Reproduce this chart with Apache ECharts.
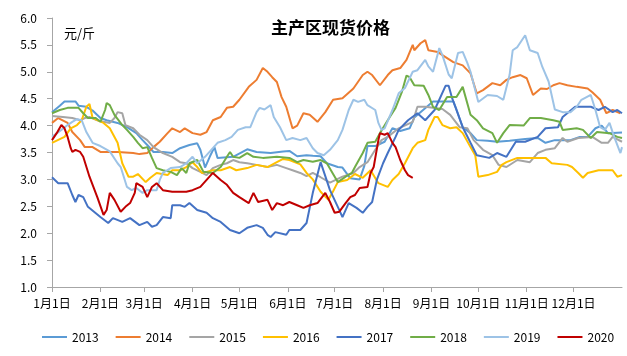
<!DOCTYPE html>
<html><head><meta charset="utf-8">
<script src="https://cdn.jsdelivr.net/npm/echarts@6/dist/echarts.min.js"></script>
<style>html,body{margin:0;padding:0;background:#fff}#c{width:627px;height:356px}</style>
</head><body><div id="c"></div>
<script>
// x = day of year (0 = 1月1日), y = price 元/斤
const monthDays = [0,31,59,90,120,151,181,212,243,273,304,334];
const monthLabels = ['1月1日','2月1日','3月1日','4月1日','5月1日','6月1日','7月1日','8月1日','9月1日','10月1日','11月1日','12月1日'];
const years = ['2013','2014','2015','2016','2017','2018','2019','2020'];
const colors = ['#5B9BD5','#ED7D31','#A5A5A5','#FFC000','#4472C4','#70AD47','#9DC3E6','#C00000'];

const s2013 = [[0,4.25],[5,4.37],[8,4.45],[15,4.45],[17,4.37],[22,4.35],[26,4.28],[31,4.14],[35,4.10],[42,4.05],[48,3.97],[54,3.86],[58,3.73],[61,3.64],[65,3.51],[71,3.51],[77,3.49],[82,3.58],[88,3.64],[93,3.67],[95,3.55],[98,3.22],[101,3.42],[104,3.60],[106,3.40],[116,3.42],[125,3.56],[131,3.51],[140,3.49],[148,3.52],[152,3.53],[157,3.43],[163,3.45],[167,3.44],[172,3.43],[176,3.30],[183,3.23],[186,3.22],[191,3.02],[197,3.00],[200,3.25],[202,3.62],[207,3.62],[213,3.70],[218,3.95],[223,3.90],[229,3.95],[232,4.15],[238,4.30],[244,4.45],[257,4.45],[259,4.30],[263,3.97],[268,3.86],[272,3.73],[279,3.72],[285,3.70],[293,3.72],[303,3.75],[311,3.77],[316,3.68],[322,3.73],[332,3.73],[338,3.79],[343,3.79],[348,3.95],[352,4.00],[356,3.86],[365,3.87]];
const s2014 = [[0,4.05],[4,4.14],[10,4.05],[13,3.88],[18,3.73],[21,3.60],[26,3.60],[31,3.51],[42,3.51],[52,3.49],[56,3.47],[61,3.49],[65,3.60],[69,3.70],[74,3.86],[77,3.95],[82,3.88],[85,3.95],[90,3.86],[95,3.83],[99,3.88],[103,4.10],[108,4.16],[112,4.33],[116,4.35],[120,4.48],[126,4.72],[131,4.85],[135,5.07],[138,5.00],[141,4.90],[144,4.81],[147,4.53],[150,4.35],[154,3.95],[157,4.00],[161,4.23],[165,4.20],[170,4.07],[175,4.25],[180,4.48],[186,4.51],[193,4.69],[199,4.94],[202,5.00],[205,4.94],[210,4.75],[215,4.94],[218,5.03],[223,5.07],[227,5.22],[231,5.50],[232,5.40],[236,5.53],[239,5.59],[241,5.40],[247,5.37],[250,5.31],[257,5.18],[263,5.12],[268,4.97],[272,4.60],[276,4.66],[282,4.79],[287,4.75],[291,4.85],[295,4.90],[300,4.94],[304,4.88],[308,4.57],[313,4.69],[317,4.68],[321,4.75],[325,4.79],[330,4.75],[336,4.72],[343,4.69],[346,4.62],[351,4.48],[355,4.23],[359,4.29],[364,4.23]];
const s2015 = [[0,4.18],[7,4.16],[13,4.14],[18,4.10],[21,4.14],[24,4.16],[29,4.10],[33,4.07],[37,4.05],[40,4.14],[42,4.25],[45,4.23],[47,4.01],[52,3.95],[56,3.83],[61,3.73],[65,3.60],[71,3.49],[77,3.42],[82,3.32],[86,3.30],[90,3.21],[95,3.14],[99,3.08],[103,3.21],[108,3.27],[112,3.30],[116,3.36],[120,3.32],[125,3.30],[131,3.27],[138,3.23],[144,3.27],[150,3.21],[154,3.17],[159,3.12],[163,3.06],[167,3.12],[172,3.04],[178,2.94],[186,3.05],[193,3.12],[197,3.23],[202,3.32],[207,3.55],[211,3.73],[215,3.79],[222,3.95],[231,4.07],[234,4.35],[239,4.35],[244,4.33],[250,4.31],[255,4.20],[261,3.97],[266,3.95],[270,3.73],[276,3.55],[282,3.45],[286,3.27],[291,3.23],[298,3.36],[306,3.32],[311,3.49],[316,3.55],[322,3.58],[327,3.77],[330,3.70],[337,3.77],[346,3.79],[352,3.68],[356,3.68],[359,3.79],[365,3.70]];
const s2016 = [[0,3.68],[8,3.79],[12,3.95],[16,4.01],[19,4.10],[22,4.35],[24,4.40],[26,4.14],[33,4.05],[37,3.95],[42,3.68],[45,3.30],[49,3.05],[52,3.05],[55,3.10],[60,2.95],[63,3.03],[67,3.12],[74,3.08],[77,3.17],[82,3.17],[86,3.23],[90,3.32],[93,3.23],[96,3.12],[99,3.14],[103,3.17],[108,3.17],[114,3.23],[118,3.17],[125,3.21],[131,3.27],[138,3.23],[144,3.32],[148,3.38],[152,3.36],[159,3.28],[163,3.12],[167,3.00],[172,2.77],[177,2.62],[180,2.78],[183,2.95],[189,2.99],[194,3.10],[199,3.03],[204,3.17],[209,2.93],[215,2.86],[218,2.99],[222,3.10],[226,3.30],[231,3.58],[234,3.68],[239,3.73],[241,3.92],[245,4.16],[247,4.16],[250,4.01],[255,3.95],[259,3.97],[263,3.86],[268,3.60],[271,3.45],[273,3.05],[279,3.08],[285,3.14],[288,3.27],[291,3.32],[298,3.40],[316,3.40],[320,3.30],[330,3.27],[333,3.23],[337,3.12],[340,3.03],[343,3.12],[350,3.17],[359,3.17],[362,3.05],[365,3.08]];
const s2017 = [[0,3.04],[4,2.93],[10,2.93],[13,2.71],[15,2.58],[17,2.71],[20,2.67],[23,2.49],[31,2.30],[36,2.19],[39,2.28],[45,2.21],[50,2.28],[56,2.15],[61,2.21],[64,2.12],[67,2.15],[71,2.30],[76,2.28],[77,2.52],[82,2.52],[85,2.49],[88,2.56],[93,2.43],[99,2.38],[103,2.28],[108,2.21],[114,2.06],[120,2.00],[125,2.10],[131,2.15],[135,2.10],[138,1.97],[140,1.93],[143,2.02],[150,1.97],[152,2.06],[159,2.06],[163,2.19],[167,2.75],[172,3.32],[178,2.80],[184,2.43],[186,2.30],[190,2.56],[195,2.47],[199,2.38],[202,2.49],[205,2.58],[208,2.99],[212,3.30],[215,3.49],[220,3.79],[222,3.92],[228,4.10],[234,4.23],[239,4.10],[245,4.29],[252,4.74],[254,4.74],[256,4.53],[259,4.29],[263,3.97],[268,3.68],[272,3.45],[280,3.40],[285,3.49],[291,3.42],[297,3.70],[303,3.70],[311,3.79],[316,3.95],[324,3.97],[327,4.16],[335,4.35],[345,4.35],[350,4.29],[354,4.35],[359,4.25],[362,4.29],[365,4.23]];
const s2018 = [[0,4.23],[5,4.29],[10,4.33],[17,4.33],[20,4.23],[23,4.14],[28,4.14],[31,4.07],[34,4.29],[35,4.42],[37,4.38],[40,4.20],[45,4.01],[48,3.92],[52,3.79],[55,3.68],[58,3.58],[61,3.60],[64,3.40],[67,3.21],[71,3.17],[76,3.14],[80,3.08],[83,3.21],[86,3.12],[88,3.30],[93,3.36],[97,3.14],[103,3.12],[108,3.23],[112,3.42],[114,3.51],[116,3.42],[120,3.40],[125,3.49],[129,3.42],[135,3.40],[144,3.42],[152,3.40],[157,3.32],[161,3.36],[167,3.33],[172,3.36],[176,3.30],[180,3.10],[183,2.95],[188,3.05],[192,3.12],[194,3.23],[199,3.49],[202,3.68],[207,3.70],[210,3.86],[215,4.10],[220,4.33],[224,4.62],[227,4.93],[229,4.90],[232,4.75],[238,4.74],[241,4.57],[244,4.35],[248,4.29],[253,4.53],[259,4.53],[263,4.72],[268,4.20],[272,4.10],[276,3.95],[282,3.86],[285,3.68],[289,3.86],[293,4.01],[302,4.00],[306,4.14],[313,4.14],[321,4.10],[325,4.07],[327,3.92],[336,3.95],[340,3.92],[345,3.77],[349,3.88],[357,3.86],[362,3.79],[365,3.77]];
const s2019 = [[0,3.79],[6,3.92],[10,4.01],[13,4.07],[16,4.12],[19,4.10],[22,3.88],[26,3.68],[31,3.62],[37,3.52],[42,3.30],[44,3.23],[48,2.86],[51,2.80],[54,2.84],[58,2.75],[61,2.80],[67,2.80],[69,2.99],[71,3.12],[76,3.21],[82,3.23],[86,3.30],[90,3.42],[93,3.30],[98,3.42],[102,3.55],[106,3.68],[111,3.73],[115,3.79],[119,3.92],[124,3.97],[127,3.97],[131,4.25],[133,4.33],[136,4.30],[140,4.38],[142,4.16],[146,3.97],[150,3.73],[154,3.77],[159,3.73],[163,3.77],[167,3.58],[170,3.49],[174,3.45],[178,3.55],[183,3.73],[186,3.92],[190,4.29],[193,4.48],[196,4.44],[200,4.48],[202,4.38],[207,4.29],[209,4.05],[211,3.92],[213,3.95],[218,4.29],[222,4.60],[226,4.70],[231,5.00],[234,5.03],[239,5.22],[241,5.10],[244,5.00],[248,5.44],[250,5.31],[254,4.95],[256,4.88],[260,5.35],[263,5.37],[266,5.16],[268,5.00],[271,4.66],[273,4.44],[279,4.57],[285,4.55],[289,4.48],[293,4.94],[295,5.40],[298,5.46],[303,5.68],[306,5.40],[311,5.35],[314,5.09],[318,4.82],[322,4.30],[327,4.25],[332,4.25],[336,4.35],[339,4.48],[345,4.57],[348,4.29],[351,3.97],[354,3.92],[357,4.05],[360,3.79],[364,3.49],[365,3.60]];
const s2020 = [[0,3.73],[3,3.86],[6,4.01],[8,3.95],[10,3.79],[12,3.58],[13,3.51],[15,3.55],[18,3.51],[20,3.42],[24,3.05],[29,2.67],[33,2.34],[35,2.43],[37,2.75],[40,2.62],[44,2.40],[47,2.49],[50,2.56],[53,2.75],[54,2.93],[58,2.86],[61,2.67],[64,2.86],[67,2.93],[71,2.80],[77,2.77],[86,2.77],[90,2.80],[95,2.86],[99,2.99],[103,3.12],[108,2.99],[112,2.90],[116,2.75],[120,2.67],[126,2.56],[129,2.75],[132,2.58],[138,2.62],[141,2.43],[144,2.56],[148,2.52],[152,2.58],[157,2.52],[161,2.47],[165,2.52],[170,2.56],[175,2.75],[178,2.58],[181,2.38],[184,2.40],[188,2.56],[191,2.67],[194,2.71],[197,2.84],[202,2.86],[204,3.12],[206,3.23],[209,3.73],[210,3.86],[213,3.83],[215,3.86],[218,3.68],[220,3.60],[223,3.36],[226,3.17],[228,3.08],[231,3.03]];
const seriesData = [s2013,s2014,s2015,s2016,s2017,s2018,s2019,s2020];

const FONT = '"Noto Sans CJK SC","Noto Sans",sans-serif';
const chart = echarts.init(document.getElementById('c'), null, {renderer:'canvas'});
chart.setOption({
  animation: false,
  backgroundColor: '#fff',
  title: [
    {text: '主产区现货价格', left: 266, top: 14, textStyle: {fontFamily: FONT, fontSize: 17, fontWeight: 'bold', color: '#000'}},
    {text: '元/斤', left: 59, top: 22, textStyle: {fontFamily: FONT, fontSize: 13, fontWeight: 'normal', color: '#000'}}
  ],
  grid: {left: 52, right: 5, top: 18, bottom: 69, containLabel: false},
  legend: {
    data: years, left: 42, top: 331, padding: 0, icon: 'rect', itemWidth: 25, itemHeight: 2, itemGap: 17,
    textStyle: {fontFamily: FONT, fontSize: 12, color: '#000'}
  },
  xAxis: {
    type: 'value', min: 0, max: 365,
    axisLine: {show: true, lineStyle: {color: '#a6a6a6', width: 1}},
    axisTick: {show: true, customValues: monthDays, length: 5, lineStyle: {color: '#a6a6a6'}},
    axisLabel: {customValues: monthDays, margin: 10, fontFamily: FONT, fontSize: 12, color: '#000',
      formatter: v => monthLabels[monthDays.indexOf(Math.round(v))] || ''},
    splitLine: {show: false}
  },
  yAxis: {
    type: 'value', min: 1, max: 6, interval: 0.5,
    axisLine: {show: true, lineStyle: {color: '#a6a6a6', width: 1}},
    axisTick: {show: true, length: 5, lineStyle: {color: '#a6a6a6'}},
    axisLabel: {margin: 15, fontFamily: FONT, fontSize: 12, color: '#000', formatter: v => v.toFixed(1)},
    splitLine: {show: false}
  },
  series: years.map((y, i) => ({
    name: y, type: 'line', data: seriesData[i], showSymbol: false, symbol: 'none',
    smooth: false, color: colors[i], lineStyle: {width: 2, color: colors[i]}, z: 2 + i
  }))
});
</script></body></html>
